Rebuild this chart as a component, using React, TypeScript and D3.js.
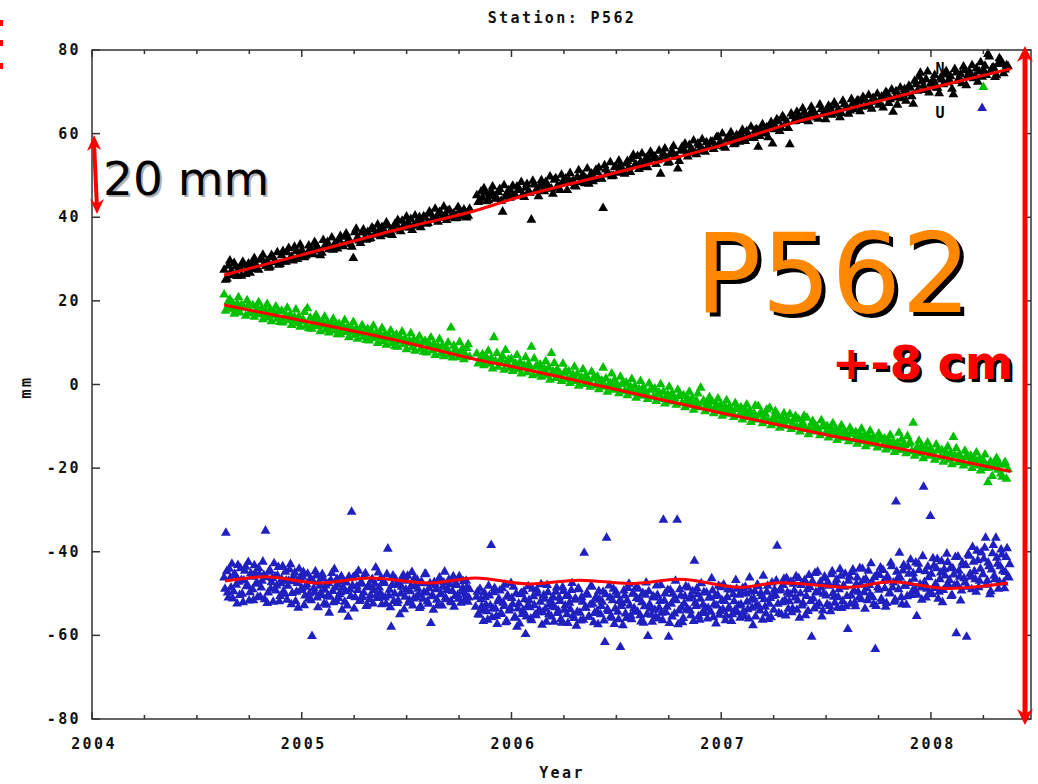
import React from "react";
import * as d3 from "d3";

const W = 1038;
const H = 784;

// axis set-up
const xDomain = [2004, 2008.477];
const yDomain = [-80, 80];
const xTickYears = [2004, 2005, 2006, 2007, 2008];
const yTickValues = [-80, -60, -40, -20, 0, 20, 40, 60, 80];

// sampling of the point series (decimal year of first epoch, spacing in days)
const seriesStart = 2004.63;
const stepNorthEastDays = 5;
const stepUpDays = 3;

// North component (mm), 5-day spacing
const north: (number | null)[] = [
  27.4, 25.3, 29.6, 26.1, 28.2, 27.5, 26.0, 28.6, 27.9, 26.7,
  29.1, 28.8, 27.4, 30.0, 28.9, 29.5, 28.1, 30.4, 29.2, 28.6,
  30.9, 29.4, 31.6, 30.2, 29.6, 31.8, 30.7, 32.1, 30.4, 31.3,
  32.5, 31.2, 33.4, 32.0, 31.5, 33.1, 34.0, 32.6, 32.2, 33.7,
  34.6, 33.1, 35.3, 34.2, 33.6, 30.2, 37.2, 34.4, 36.3, 35.0,
  36.4, 35.0, 37.1, 35.8, 36.9, 37.6, 35.9, 38.0, 36.5, 37.4,
  38.2, 37.0, 39.1, 37.6, 38.8, 39.5, 37.9, 38.4, 40.0, 38.7,
  39.9, 38.6, 40.8, 39.4, 40.1, 41.2, 39.8, 40.6, 41.5, 40.0,
  40.9, 39.8, 41.6, 40.4, 41.2, 40.3, null, null, 45.2, 44.0,
  44.6, 45.8, 44.1, 46.2, 45.0, 44.5, 46.7, 41.3, 44.9, 46.4,
  46.0, 45.1, 47.3, 46.5, 45.4, 47.0, 46.1, 39.4, 47.8, 46.6,
  47.5, 46.3, 48.4, 47.1, 46.8, 48.9, 47.4, 46.5, 48.6, 49.2,
  49.0, 48.2, 47.5, 49.6, 48.4, 50.1, 49.2, 48.0, 50.4, 49.1,
  50.7, 49.3, 42.2, 51.4, 50.2, 49.8, 51.9, 50.6, 52.3, 51.0,
  52.8, 51.9, 53.9, 52.4, 54.6, 53.1, 52.0, 54.2, 53.5, 55.0,
  54.5, 53.6, 50.4, 55.3, 54.0, 53.2, 55.8, 54.4, 51.6, 55.9,
  56.3, 55.1, 57.2, 56.0, 55.4, 57.6, 56.5, 55.8, 57.9, 56.7,
  58.0, 57.1, 59.2, 57.8, 56.9, 58.7, 59.5, 58.1, 57.6, 59.4,
  59.8, 58.7, 60.5, 59.3, 58.9, 60.8, 56.8, 61.2, 60.0, 61.5,
  62.0, 57.6, 61.7, 62.9, 61.4, 63.6, 62.8, 57.4, 64.1, 63.0,
  64.3, 63.2, 65.0, 63.9, 64.7, 65.6, 64.1, 63.5, 65.8, 64.9,
  65.4, 66.2, 64.8, 66.7, 65.7, 64.9, 67.0, 66.1, 65.5, 67.3,
  66.9, 67.8, 66.4, 68.1, 67.2, 66.5, 68.5, 67.6, 66.9, 68.8,
  68.7, 69.5, 68.2, 65.2, 70.1, 69.0, 68.4, 70.6, 69.7, 70.9,
  67.1, 71.8, 73.6, 72.5, 70.4, 74.8, 71.9, 72.8, 71.0, 69.6,
  72.9, 74.1, 72.2, 73.7, 69.4, 74.6, 73.3, 72.0, 75.1, 73.8,
  74.3, 73.2, 75.6, 74.8, 73.6, 76.2, 79.0, 74.9, 75.8, 73.9,
  78.0, 76.8, 75.3, 76.1,
];
// North component, epochs in between (offset by half a step)
const northMid: (number | null)[] = [
  25.0, 28.4, 27.1, 29.0, 25.9, 27.8, 29.3, 26.4, 28.9, 27.6,
  30.2, 27.6, 29.8, 31.0, 28.3, 27.9, 30.9, 29.4, 31.6, 28.8,
  31.9, 29.3, 32.6, 30.5, 32.9, 30.0, 33.4, 31.5, 30.8, 33.2,
  31.1, 34.0, 32.8, 30.9, 34.5, 33.0, 32.3, 35.1, 33.6, 32.5,
  35.5, 33.0, 36.1, 34.7, 32.9, 36.4, 35.2, 33.8, 37.0, 34.6,
  34.8, 37.5, 36.0, 38.2, 35.4, 37.0, 38.7, 36.2, 35.7, 38.4,
  39.3, 36.6, 38.0, 40.1, 37.5, 36.9, 40.4, 38.9, 37.6, 40.2,
  38.4, 41.3, 39.6, 42.0, 38.9, 40.9, 42.5, 39.3, 41.7, 40.6,
  39.7, 42.4, 40.1, 41.8, 39.9, 42.0, null, null, 43.6, 46.1,
  46.9, 43.8, 45.5, 47.3, 44.4, 46.0, 43.9, 47.6, 45.7, 44.6,
  47.5, 45.2, 46.6, 48.4, 44.8, 47.9, 45.8, 48.7, 46.3, 45.0,
  48.8, 46.2, 47.9, 49.7, 45.6, 49.3, 47.0, 50.1, 48.3, 46.5,
  50.5, 48.7, 47.3, 51.2, 49.5, 48.1, 51.6, 50.0, 48.6, 51.3,
  51.8, 49.2, 52.4, 50.6, 53.1, 49.9, 52.0, 53.5, 51.1, 50.4,
  53.4, 50.8, 54.9, 52.6, 51.5, 55.2, 53.0, 51.9, 55.6, 54.1,
  52.7, 55.9, 54.2, 56.4, 53.0, 55.1, 57.0, 54.6, 53.4, 56.8,
  57.6, 54.5, 56.1, 58.3, 55.0, 57.2, 58.6, 55.6, 56.9, 58.1,
  56.3, 59.1, 57.7, 60.0, 56.6, 58.9, 60.3, 57.4, 59.6, 58.0,
  60.9, 58.2, 59.7, 61.6, 58.9, 61.0, 59.4, 62.2, 60.5, 59.1,
  62.7, 61.0, 63.4, 60.6, 64.2, 62.3, 61.3, 64.8, 62.9, 65.2,
  63.5, 66.0, 64.1, 62.9, 66.4, 65.0, 63.8, 66.9, 64.6, 63.4,
  66.6, 64.5, 67.4, 65.2, 63.9, 67.8, 66.0, 64.7, 68.2, 65.8,
  67.9, 65.3, 68.7, 66.6, 69.2, 65.9, 68.0, 69.5, 67.1, 66.2,
  69.9, 67.3, 70.5, 68.6, 66.9, 71.0, 69.3, 67.8, 71.4, 68.9,
  72.6, 70.2, 74.5, 71.4, 73.0, 69.8, 72.2, 74.0, 70.9, 73.3,
  71.8, 74.9, 73.0, 70.7, 75.4, 72.6, 74.2, 76.0, 71.5, 74.7,
  76.3, 73.8, 72.4, 77.0, 75.1, 74.0, 78.4, 75.7, 73.5, 76.6,
  77.5, 74.4, 76.3,
];

// East component (mm), 5-day spacing
const east: (number | null)[] = [
  21.5, 18.2, 20.3, 19.4, 17.9, 20.8, 19.0, 18.4, 20.1, 17.3,
  18.9, 17.2, 19.6, 18.1, 16.8, 19.2, 17.9, 16.5, 18.6, 17.4,
  17.6, 15.9, 18.3, 16.7, 15.4, 17.9, 16.2, 15.1, 17.3, 18.2,
  15.9, 14.3, 16.6, 15.2, 14.0, 16.2, 14.8, 13.6, 15.7, 14.4,
  14.5, 13.1, 15.4, 13.8, 12.6, 14.9, 13.4, 12.2, 14.1, 12.8,
  13.2, 11.6, 14.0, 12.4, 11.2, 13.5, 12.0, 10.8, 12.9, 11.5,
  11.9, 10.4, 12.6, 11.0, 9.9, 12.2, 10.7, 9.6, 11.5, 10.1,
  10.4, 9.1, 11.2, 9.7, 8.6, 10.8, 9.3, 8.2, 10.0, 13.6,
  9.2, 7.8, 10.1, 8.5, 7.2, 9.6, null, null, 7.4, 5.6,
  7.2, 5.7, 8.0, 6.3, 11.3, 7.5, 5.4, 6.8, 8.2, 5.9,
  6.1, 4.6, 7.0, 5.3, 4.1, 6.5, 5.0, 9.0, 6.2, 4.4,
  4.7, 3.3, 5.5, 4.0, 7.5, 5.1, 3.6, 2.6, 4.9, 3.2,
  3.1, 1.8, 4.2, 2.5, 1.2, 3.6, 2.2, 0.9, 3.0, 1.6,
  1.9, 0.5, 4.0, 1.4, 0.0, 2.6, 1.1, -0.4, 1.8, 0.3,
  0.4, -1.0, 1.3, -0.3, -1.6, 0.8, -0.7, -2.0, 0.2, -1.2,
  -1.0, -2.4, 0.0, -1.7, -3.0, -0.6, -2.1, -3.4, -1.3, -2.8,
  -2.6, -4.0, -1.8, -3.3, -4.6, -2.2, -0.8, -3.9, -5.0, -3.1,
  -4.1, -5.6, -3.4, -4.9, -6.2, -3.8, -5.3, -6.6, -4.5, -5.9,
  -5.5, -7.0, -4.8, -6.3, -7.6, -5.1, -5.2, -6.7, -8.0, -6.0,
  -5.6, -8.5, -6.4, -7.7, -9.0, -6.9, -8.2, -7.1, -9.4, -7.6,
  -8.3, -9.7, -7.5, -8.0, -10.3, -8.8, -9.9, -11.0, -8.6, -10.1,
  -10.0, -11.4, -9.3, -10.7, -12.1, -9.8, -11.2, -12.5, -10.4, -11.8,
  -11.4, -12.8, -10.6, -12.1, -13.5, -11.1, -12.6, -13.9, -11.8, -13.2,
  -12.9, -14.3, -12.1, -13.6, -14.9, -11.6, -13.1, -14.5, -12.4, -13.9,
  -9.2, -15.7, -13.5, -14.9, -16.2, -13.9, -15.3, -16.6, -14.4, -15.8,
  -15.7, -17.1, -14.9, -16.4, -12.6, -15.3, -16.8, -18.1, -15.9, -17.4,
  -17.0, -18.6, -16.3, -17.9, -19.3, -16.8, -23.4, -18.5, -19.9, -17.6,
  -19.0, -22.1, -18.6, -20.3,
];
// East component, epochs in between
const eastMid: (number | null)[] = [
  17.6, 19.9, 18.1, 16.9, 19.3, 17.2, 18.6, 16.4, 18.9, 17.0,
  16.2, 18.3, 16.8, 15.6, 17.7, 16.0, 15.1, 17.2, 15.7, 14.9,
  14.8, 16.6, 15.3, 14.2, 16.1, 14.6, 13.8, 15.5, 14.0, 13.4,
  13.3, 15.4, 13.9, 12.7, 14.8, 13.1, 12.4, 14.3, 12.9, 12.0,
  12.0, 13.9, 12.5, 11.3, 13.4, 11.8, 10.9, 12.8, 11.4, 10.6,
  10.5, 12.5, 11.0, 9.9, 12.0, 10.3, 9.5, 11.4, 9.9, 9.1,
  9.0, 11.0, 9.6, 8.4, 10.5, 8.9, 8.0, 10.0, 8.5, 7.8,
  7.6, 9.6, 8.1, 7.0, 9.1, 7.4, 6.7, 8.6, 7.1, 6.4,
  8.4, 6.5, 7.9, 6.0, 8.7, 6.6, null, null, 5.0, 6.6,
  4.6, 6.3, 4.9, 3.8, 5.6, 4.2, 6.0, 3.5, 5.1, 4.0,
  3.2, 5.0, 3.6, 2.6, 4.5, 2.9, 3.9, 2.2, 4.2, 2.5,
  1.8, 3.7, 2.2, 1.1, 3.1, 1.5, 2.6, 0.8, 2.8, 1.2,
  0.3, 2.3, 0.8, -0.3, 1.7, 0.1, 1.2, -0.6, 1.4, -0.2,
  -1.2, 0.9, -0.6, -1.8, 0.3, -1.3, -0.2, -2.1, 0.1, -1.6,
  -2.6, -0.5, -2.0, -3.2, -1.1, -2.7, -1.6, -3.5, -1.3, -3.0,
  -4.0, -1.9, -3.5, -4.6, -2.4, -4.1, -3.0, -4.9, -2.7, -4.4,
  -5.5, -3.4, -4.9, -6.1, -3.9, -5.5, -4.4, -6.4, -4.1, -5.8,
  -6.9, -4.8, -6.4, -7.5, -5.3, -7.0, -5.9, -7.8, -5.5, -7.3,
  -8.4, -6.2, -7.8, -9.0, -6.8, -8.4, -7.3, -9.3, -7.0, -8.7,
  -9.8, -7.7, -9.3, -10.4, -8.2, -9.9, -8.7, -10.7, -8.4, -10.2,
  -11.3, -9.1, -10.7, -11.9, -9.6, -11.3, -10.2, -12.2, -9.9, -11.6,
  -12.7, -10.6, -12.2, -13.3, -11.1, -12.8, -11.6, -13.6, -11.3, -13.1,
  -14.2, -12.0, -13.6, -14.8, -12.5, -14.2, -13.1, -15.1, -12.8, -14.5,
  -15.6, -13.5, -15.1, -16.2, -14.0, -15.7, -14.5, -16.5, -14.2, -16.0,
  -17.1, -14.9, -16.5, -17.7, -15.4, -17.1, -16.0, -18.0, -15.7, -17.4,
  -18.5, -16.4, -18.0, -19.1, -16.9, -18.6, -17.4, -19.4, -17.1, -18.9,
  -20.0, -17.8, -19.4, -20.6, -18.3, -20.0, -18.9, -21.9, -18.6, -20.4,
  -21.3, -19.2, -22.6,
];

// Up component (mm), 3-day spacing
const up: (number | null)[] = [
  -46.2, -35.5, -49.8, -44.1, -48.6, -51.2, -45.3, -47.9, -43.2, -50.4,
  -46.8, -52.1, -44.6, -48.3, -42.5, -49.7, -46.0, -51.6, -45.1, -47.4,
  -43.9, -50.8, -47.0, -45.6, -35.0, -52.3, -44.8, -48.9, -46.4, -42.8,
  -49.3, -45.7, -51.9, -47.6, -43.5, -50.1, -46.9, -48.2, -44.3, -52.6,
  -47.1, -45.0, -49.6, -53.4, -46.3, -48.7, -44.9, -50.5, -47.8, -51.3,
  -46.5, -60.2, -48.8, -44.7, -51.0, -47.3, -49.9, -45.4, -52.4, -48.1,
  -50.6, -54.6, -46.8, -49.4, -44.2, -51.8, -47.9, -50.2, -45.9, -48.5,
  -52.0, -47.4, -55.6, -49.0, -30.5, -46.1, -50.9, -48.3, -44.6, -51.5,
  -47.7, -49.8, -45.2, -52.7, -48.0, -50.4, -46.6, -49.2, -43.8, -51.1,
  -48.6, -46.3, -50.7, -47.5, -52.5, -39.3, -49.1, -58.0, -45.7, -50.0,
  -47.9, -51.7, -55.0, -48.4, -45.6, -50.8, -47.0, -52.2, -49.5, -44.9,
  -51.2, -48.1, -46.7, -50.3, -53.0, -47.6, -49.7, -45.3, -51.9, -48.8,
  -57.1, -50.5, -47.3, -49.0, -52.8, -46.2, -50.1, -48.4, -44.8, -51.4,
  -49.2, -47.8, -52.1, -45.9, -50.6, -48.0, -51.3, -46.5, -49.6, -47.1,
  -50.2, -48.5, -51.0, null, null, null, -53.2, -49.6, -55.1, -51.4,
  -54.0, -49.8, -52.7, -56.3, -50.5, -38.4, -53.6, -48.7, -55.4, -51.9,
  -49.3, -54.8, -52.2, -47.9, -56.6, -50.8, -53.5, -51.1, -48.4, -55.7,
  -58.0, -52.4, -50.2, -54.9, -49.5, -59.7, -53.1, -51.6, -56.0, -48.9,
  -52.8, -55.2, -50.0, -53.9, -47.8, -54.5, -51.3, -56.8, -49.7, -52.6,
  -55.5, -50.9, -53.3, -48.6, -54.1, -51.8, -57.0, -49.4, -52.9, -55.0,
  -50.6, -53.8, -47.5, -55.9, -51.2, -54.4, -49.0, -56.5, -52.0, -40.3,
  -53.4, -50.3, -55.6, -48.2, -52.5, -54.7, -50.8, -57.4, -51.5, -53.0,
  -49.6, -61.6, -36.7, -54.2, -51.0, -55.8, -48.9, -53.6, -50.4, -56.2,
  -62.8, -52.3, -49.3, -54.8, -51.7, -47.7, -55.3, -50.1, -53.5, -48.6,
  -54.4, -51.4, -56.7, -49.9, -53.1, -47.4, -60.2, -52.6, -55.1, -50.7,
  -53.9, -48.1, -56.0, -51.8, -54.6, -32.4, -50.0, -53.2, -60.4, -49.2,
  -55.5, -51.5, -47.0, -32.4, -54.1, -50.5, -56.9, -52.4, -48.3, -53.7,
  -51.2, -55.2, -49.5, -42.2, -53.0, -50.2, -56.3, -47.6, -52.7, -54.6,
  -49.8, -53.5, -51.0, -46.4, -55.7, -50.6, -52.9, -48.2, -54.2, -51.6,
  -47.9, -56.4, -50.9, -53.3, -49.1, -55.0, -51.9, -46.8, -54.5, -50.3,
  -52.6, -48.7, -55.4, -50.0, -53.8, -46.2, -51.5, -57.6, -49.4, -52.8,
  -48.3, -54.1, -50.7, -45.8, -53.2, -49.6, -56.1, -51.1, -47.4, -53.9,
  -50.4, -38.6, -54.7, -48.9, -52.1, -46.5, -55.3, -49.8, -51.9, -47.2,
  -53.6, -49.3, -45.9, -51.7, -55.8, -48.0, -52.3, -46.8, -50.6, -54.2,
  -48.5, -60.4, -51.2, -45.1, -53.0, -49.7, -47.3, -55.5, -50.1, -46.4,
  -52.6, -48.2, -54.3, -44.7, -50.8, -47.6, -53.4, -49.0, -45.8, -51.9,
  -48.4, -53.1, -58.5, -46.0, -50.5, -44.3, -52.2, -47.7, -49.6, -43.9,
  -51.4, -46.9, -53.7, -48.8, -44.6, -50.3, -47.2, -52.6, -63.3, -45.5,
  -49.1, -43.8, -51.8, -47.0, -53.2, -45.9, -50.0, -42.7, -48.6, -52.0,
  -28.0, -46.4, -40.3, -50.9, -44.5, -48.2, -52.7, -43.6, -47.5, -50.4,
  -45.2, -49.0, -55.4, -42.9, -47.8, -51.5, -24.5, -44.7, -48.9, -46.1,
  -31.5, -50.2, -43.4, -47.7, -41.8, -49.6, -45.0, -52.1, -44.2, -48.4,
  -42.5, -46.8, -50.6, -44.0, -48.1, -59.5, -41.2, -46.0, -49.3, -43.3,
  -47.4, -60.4, -40.6, -45.3, -49.0, -42.4, -46.6, -39.8, -48.5, -44.1,
  66.1, -41.7, -36.7, -46.9, -43.5, -49.5, -40.4, -45.8, -36.7, -42.9,
  -47.2, -39.5, -44.6, -48.8, -41.3, -45.9, -43.0,
];
// Up component, epochs in between
const upMid: (number | null)[] = [
  -48.9, -44.7, -51.0, -46.3, -42.9, -49.5, -45.6, -52.4, -47.2, -44.0,
  -50.1, -46.9, -43.6, -48.0, -51.7, -45.2, -49.0, -43.3, -47.7, -50.9,
  -45.4, -48.6, -42.4, -51.4, -46.1, -49.8, -44.4, -47.3, -52.0, -45.9,
  -48.1, -43.7, -50.6, -46.6, -49.4, -44.8, -51.5, -47.0, -43.0, -49.9,
  -45.8, -51.9, -47.5, -44.1, -49.2, -46.0, -52.8, -48.4, -45.3, -50.0,
  -51.6, -47.0, -49.7, -45.7, -53.3, -48.2, -50.4, -46.4, -49.1, -52.7,
  -47.6, -50.8, -45.1, -52.1, -48.6, -46.5, -51.1, -49.7, -53.9, -47.1,
  -49.5, -52.9, -46.0, -50.6, -48.1, -53.6, -45.5, -49.2, -51.8, -47.3,
  -50.9, -45.8, -53.0, -48.5, -51.4, -46.9, -52.4, -47.7, -50.3, -45.0,
  -49.9, -52.6, -47.0, -51.0, -45.4, -50.5, -53.3, -48.0, -51.8, -46.6,
  -52.3, -47.8, -50.0, -46.2, -53.8, -49.1, -45.8, -51.6, -48.3, -52.9,
  -46.4, -50.9, -48.9, -53.5, -47.2, -51.3, -45.4, -49.8, -52.5, -47.6,
  -50.7, -53.9, -48.0, -51.5, -46.9, -50.2, -52.9, -47.4, -51.0, -49.0,
  -46.7, -51.9, -49.4, -53.2, -47.6, -50.4, -45.9, -52.2, -48.7, -51.6,
  -47.0, -52.0, -49.0, null, null, null, -50.8, -54.9, -48.9, -53.1,
  -56.6, -50.9, -54.3, -48.2, -52.9, -55.7, -49.7, -53.6, -57.3, -51.3,
  -54.9, -48.8, -53.0, -56.9, -50.5, -54.1, -47.5, -52.6, -55.8, -50.0,
  -53.6, -57.2, -49.9, -54.0, -51.4, -55.5, -48.3, -53.3, -56.4, -50.7,
  -55.1, -49.1, -54.5, -52.0, -57.5, -50.4, -53.7, -48.0, -55.0, -51.7,
  -53.1, -56.8, -49.6, -54.7, -51.0, -56.1, -48.5, -53.9, -50.6, -57.1,
  -52.2, -49.2, -55.3, -51.5, -57.7, -48.8, -54.6, -50.9, -56.3, -53.4,
  -49.9, -55.6, -52.7, -48.4, -56.9, -51.2, -54.2, -49.4, -55.0, -52.0,
  -56.5, -50.2, -53.8, -48.1, -55.4, -51.6, -57.3, -49.6, -54.4, -51.8,
  -53.0, -57.6, -50.5, -55.9, -48.7, -52.9, -56.2, -50.0, -54.3, -51.1,
  -48.9, -55.2, -52.1, -57.0, -50.3, -54.9, -49.5, -53.6, -56.8, -51.0,
  -55.6, -50.4, -53.4, -48.0, -56.4, -51.7, -54.5, -49.2, -57.1, -52.5,
  -50.1, -54.8, -51.6, -57.4, -49.0, -53.3, -55.9, -50.7, -53.9, -48.6,
  -54.1, -50.8, -56.6, -52.2, -48.8, -55.4, -51.3, -54.7, -49.7, -53.5,
  -56.0, -51.0, -54.4, -49.3, -52.6, -57.2, -50.4, -55.1, -48.5, -53.8,
  -51.8, -55.3, -49.0, -53.7, -56.6, -50.2, -54.0, -48.9, -52.9, -55.8,
  -50.0, -54.3, -48.4, -52.0, -56.0, -49.6, -53.4, -51.2, -55.5, -47.9,
  -53.1, -49.9, -56.3, -51.4, -54.8, -48.2, -52.5, -55.7, -50.6, -49.1,
  -46.9, -52.5, -49.3, -55.0, -48.0, -51.6, -46.3, -53.7, -50.2, -54.5,
  -47.7, -51.0, -53.9, -46.4, -50.0, -52.9, -47.4, -55.2, -49.0, -45.6,
  -51.8, -47.1, -53.6, -49.7, -44.8, -52.4, -48.6, -54.1, -46.0, -50.5,
  -47.3, -53.0, -45.4, -49.9, -52.2, -46.7, -50.9, -44.2, -53.5, -48.1,
  -45.3, -50.6, -47.0, -52.5, -44.9, -49.3, -53.1, -46.2, -51.0, -47.9,
  -44.1, -49.7, -46.5, -51.6, -48.0, -42.8, -50.9, -46.1, -53.0, -48.5,
  -45.6, -51.3, -44.4, -48.8, -52.3, -46.7, -49.9, -43.5, -47.4, -51.5,
  -44.8, -49.0, -46.2, -52.6, -43.2, -48.2, -50.7, -45.3, -41.9, -49.4,
  -46.5, -42.6, -50.3, -44.4, -48.6, -41.1, -47.3, -51.0, -43.6, -49.8,
  -45.3, -41.6, -48.7, -44.0, -51.3, -46.6, -42.3, -49.2, -45.7, -40.5,
  -48.0, -43.9, -50.4, -45.5, -41.3, -47.8, -44.6, -51.7, -42.7, -46.4,
  -43.2, -48.4, -41.0, -46.0, -38.9, -44.7, -49.6, -42.1, -47.0, -40.2,
  -45.4, -39.1, -47.9, -42.6, -50.2, -44.3, -38.4, -46.6, -41.5, -48.9,
  -43.5, -40.7, -47.4, -44.9, -39.2, -46.2,
];

// extra stray point near the end
const strayGreenYear = [2008.25];
const strayGreenValue = [71.1];

// red model curves
const northFitYears = [2004.63, 2005.0, 2005.5, 2005.83, 2006.0, 2006.5, 2007.0, 2007.37, 2007.5, 2008.0, 2008.38];
const northFit = [26.2, 31.0, 37.6, 41.6, 44.3, 50.7, 57.2, 63.0, 64.6, 70.9, 75.5];
const eastFitYears = [2004.63, 2005.0, 2005.5, 2005.83, 2006.0, 2006.5, 2007.0, 2007.5, 2008.0, 2008.38];
const eastFit = [19.0, 15.3, 10.0, 6.0, 4.3, -1.2, -6.8, -12.0, -16.8, -20.8];
const upFitYears = [2004.634, 2004.825, 2005.087, 2005.325, 2005.611, 2005.826, 2006.088, 2006.327, 2006.565, 2006.803, 2007.089, 2007.28, 2007.614, 2007.805, 2008.091, 2008.367];
const upFit = [-47.0, -46.0, -47.5, -46.3, -47.5, -46.3, -47.7, -46.8, -47.6, -46.6, -48.5, -47.4, -48.5, -47.2, -48.8, -47.5];

const COLORS = { north: "#000000", east: "#00c000", up: "#2020c0", fit: "#ff0000" };
const MONO = "'DejaVu Sans Mono', 'Liberation Mono', monospace";
const SANS = "'DejaVu Sans', Verdana, sans-serif";

type Pt = { t: number; v: number };

export default function App() {
  const x = d3.scaleLinear().domain(xDomain).range([92, 1031]);
  const y = d3.scaleLinear().domain(yDomain).range([719, 50]);
  const tri = d3.symbol(d3.symbolTriangle, 42)() as string;

  const toPts = (vals: (number | null)[], stepDays: number, offsetSteps: number): Pt[] =>
    vals
      .map((v, i) => ({ t: seriesStart + ((i + offsetSteps) * stepDays) / 365.25, v }))
      .filter((p) => p.v !== null) as Pt[];

  const nPts = [...toPts(north, stepNorthEastDays, 0), ...toPts(northMid, stepNorthEastDays, 0.5)];
  const ePts = [...toPts(east, stepNorthEastDays, 0), ...toPts(eastMid, stepNorthEastDays, 0.5)];
  const uPts = [...toPts(up, stepUpDays, 0), ...toPts(upMid, stepUpDays, 0.5)];

  const line = d3
    .line<[number, number]>()
    .x((d) => x(d[0]))
    .y((d) => y(d[1]))
    .curve(d3.curveMonotoneX);
  const fitPath = (ts: number[], vs: number[]) => line(ts.map((t, i) => [t, vs[i]] as [number, number])) as string;

  const minorX = d3.range(2004, xDomain[1], 0.25);
  const left = x(xDomain[0]);
  const right = x(xDomain[1]);
  const top = y(yDomain[1]);
  const bottom = y(yDomain[0]);

  const label = { fontFamily: MONO, fontWeight: 700, fontSize: 15, letterSpacing: 2.4, fill: "#111" } as const;

  const drawPts = (pts: Pt[], color: string, key: string) =>
    pts.map((p, i) => (
      <path key={key + i} d={tri} transform={`translate(${x(p.t).toFixed(1)},${y(p.v).toFixed(1)})`} fill={color} />
    ));

  return (
    <svg width={W} height={H} style={{ position: "absolute", left: 0, top: 0, background: "#fff" }}>
      <rect x={0} y={0} width={W} height={H} fill="#fff" />
      {[20, 40, 63].map((yy) => (
        <rect key={yy} x={0} y={yy} width={3} height={6} fill="#ff0000" />
      ))}
      <text x={562} y={23} textAnchor="middle" {...label}>Station: P562</text>

      {drawPts(nPts, COLORS.north, "n")}
      {drawPts(ePts, COLORS.east, "e")}
      {strayGreenYear.map((t, i) => (
        <path key={"sg" + i} d={tri} transform={`translate(${x(t)},${y(strayGreenValue[i])})`} fill={COLORS.east} />
      ))}
      {drawPts(uPts, COLORS.up, "u")}

      <path d={fitPath(northFitYears, northFit)} fill="none" stroke={COLORS.fit} strokeWidth={3} />
      <path d={fitPath(eastFitYears, eastFit)} fill="none" stroke={COLORS.fit} strokeWidth={3} />
      <path d={fitPath(upFitYears, upFit)} fill="none" stroke={COLORS.fit} strokeWidth={3} />

      <text x={940} y={74} textAnchor="middle" fontFamily={MONO} fontWeight={700} fontSize={15} fill="#000">N</text>
      <text x={940} y={118} textAnchor="middle" fontFamily={MONO} fontWeight={700} fontSize={15} fill="#000">U</text>

      <rect x={left} y={top} width={right - left} height={bottom - top} fill="none" stroke="#333" strokeWidth={1.5} />
      {yTickValues.map((v) => (
        <g key={"yt" + v}>
          <line x1={left} x2={left + 8} y1={y(v)} y2={y(v)} stroke="#333" strokeWidth={1.5} />
          <line x1={right - 8} x2={right} y1={y(v)} y2={y(v)} stroke="#333" strokeWidth={1.5} />
          <text x={81} y={y(v) + 5} textAnchor="end" {...label}>{v}</text>
        </g>
      ))}
      {minorX.map((t) => {
        const major = Math.abs(t - Math.round(t)) < 1e-6;
        const len = major ? 7 : 4;
        return (
          <g key={"xt" + t}>
            <line x1={x(t)} x2={x(t)} y1={bottom} y2={bottom - len} stroke="#333" strokeWidth={1.5} />
            <line x1={x(t)} x2={x(t)} y1={top} y2={top + len} stroke="#333" strokeWidth={1.5} />
          </g>
        );
      })}
      {xTickYears.map((t) => (
        <text key={"xl" + t} x={x(t) + 2} y={749} textAnchor="middle" {...label}>{t}</text>
      ))}
      <text x={562} y={778} textAnchor="middle" {...label}>Year</text>
      <text transform="translate(31,387) rotate(-90)" textAnchor="middle" {...label}>mm</text>

      {/* 20 mm annotation */}
      <line x1={94} y1={142} x2={97} y2={208} stroke="#ff0000" strokeWidth={4} />
      <polygon points="94,135 87,151 94.5,146 101,150" fill="#ff0000" />
      <polygon points="97,214 90,199 96.5,204 104,199" fill="#ff0000" />
      <text x={105} y={197} fontFamily={SANS} fontSize={47} fill="#b0b0b0">20 mm</text>
      <text x={103} y={195} fontFamily={SANS} fontSize={47} fill="#000">20 mm</text>

      {/* P562 */}
      <text x={699} y={316} fontFamily={SANS} fontSize={110} fill="#000">P562</text>
      <text x={695} y={312} fontFamily={SANS} fontSize={110} fill="#ff8800">P562</text>

      {/* +-8 cm */}
      <text x={835} y={382} fontFamily={SANS} fontWeight={700} fontSize={46} fill="#000">+-8 cm</text>
      <text x={832} y={379} fontFamily={SANS} fontWeight={700} fontSize={46} fill="#ff0000">+-8 cm</text>

      {/* big vertical arrow */}
      <line x1={1025} y1={55} x2={1025} y2={716} stroke="#ff0000" strokeWidth={5} />
      <polygon points="1025,46 1017,62 1025,57 1033,62" fill="#ff0000" />
      <polygon points="1025,725 1017,709 1025,714 1033,709" fill="#ff0000" />
    </svg>
  );
}
